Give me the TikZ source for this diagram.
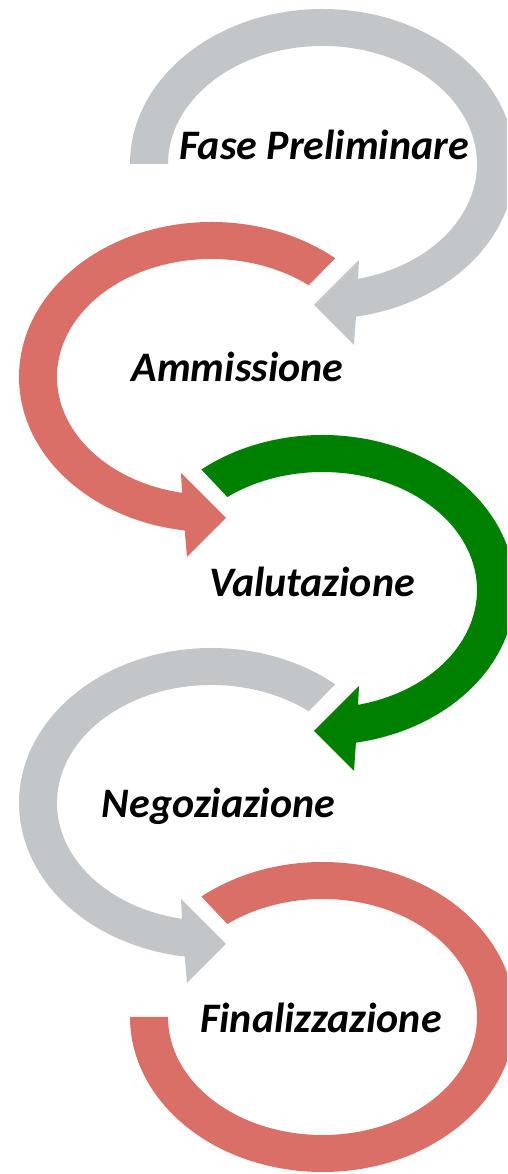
\documentclass[tikz,border=0pt]{standalone}
\usepackage{fontspec}
\setmainfont{Carlito}
\usepackage{tikz}
\usetikzlibrary{positioning,calc}

\definecolor{arcgray}{RGB}{195,198,201}
\definecolor{arcred}{RGB}{218,111,104}
\definecolor{arcgreen}{RGB}{0,128,0}

\tikzset{
	bigrim/.style={x radius=192.5, y radius=155},
	smallrim/.style={x radius=154.5, y radius=118},
	graystrip/.style={fill=arcgray},
	redstrip/.style={fill=arcred},
	greenstrip/.style={fill=arcgreen},
	phase/.style={font=\fontsize{42}{50}\selectfont\bfseries\itshape, anchor=base, inner sep=0pt},
}

\begin{document}
\begin{tikzpicture}[x=1pt,y=1pt]
		\clip (0,0) rectangle (507,1174);
		\coordinate (c1) at (322.5,1010);
		\coordinate (c2) at (211.5,797);
		\coordinate (c3) at (322.5,584);
		\coordinate (c4) at (211.5,371);
		\coordinate (c5) at (322.5,157);
		
		% right hand loops, head points left
		\begin{scope}[shift={(c1)}]
			\fill[graystrip] (180:192.5 and 155) arc[bigrim, start angle=180, end angle=-80]
			-- (31.5,-181) -- (-8.5,-141) -- (36.5,-96)
			-- (-76.7:154.5 and 118) arc[smallrim, start angle=-76.7, end angle=180] -- cycle;
		\end{scope}
		\begin{scope}[shift={(c3)}]
			\fill[greenstrip] (129:192.5 and 155) arc[bigrim, start angle=129, end angle=-80]
			-- (31.5,-181) -- (-8.5,-141) -- (36.5,-96)
			-- (-76.7:154.5 and 118) arc[smallrim, start angle=-76.7, end angle=128] -- cycle;
		\end{scope}
		\begin{scope}[shift={(c5)}]
			\fill[redstrip] (129:192.5 and 155) arc[bigrim, start angle=129, end angle=-180]
			-- (-180:154.5 and 118) arc[smallrim, start angle=-180, end angle=128] -- cycle;
		\end{scope}
		
		% left hand loops, head points right
		\begin{scope}[shift={(c2)}]
			\fill[redstrip] (50:192.5 and 155) arc[bigrim, start angle=50, end angle=262]
			-- (-24.5,-180) -- (14.5,-141) -- (-30.5,-96)
			-- (259:154.5 and 118) arc[smallrim, start angle=259, end angle=51] -- cycle;
		\end{scope}
		\begin{scope}[shift={(c4)}]
			\fill[graystrip] (50:192.5 and 155) arc[bigrim, start angle=50, end angle=262]
			-- (-24.5,-180) -- (14.5,-141) -- (-30.5,-96)
			-- (259:154.5 and 118) arc[smallrim, start angle=259, end angle=51] -- cycle;
		\end{scope}
		
		\node[phase, shift={(1.5,4)}] (fase) at (c1) {Fase Preliminare};
		\node[phase, shift={(26,-5)}] (ammissione) at (c2) {Ammissione};
		\node[phase, shift={(-10.5,-7)}] (valutazione) at (c3) {Valutazione};
		\node[phase, shift={(7,-15)}] (negoziazione) at (c4) {Negoziazione};
		\node[phase, shift={(-1.5,-16)}] (finalizzazione) at (c5) {Finalizzazione};
\end{tikzpicture}
\end{document}
